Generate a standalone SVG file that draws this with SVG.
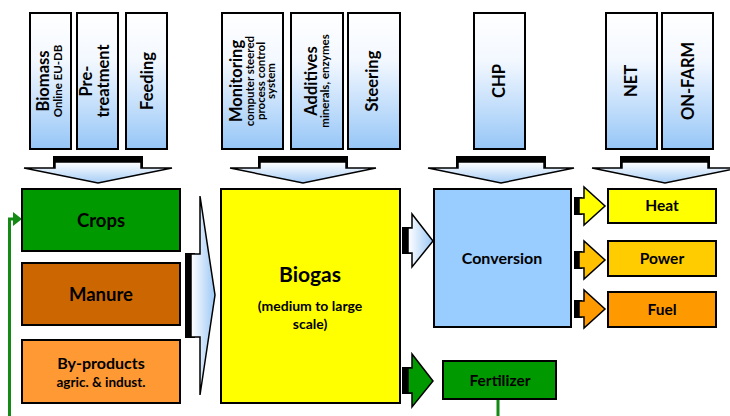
<svg xmlns="http://www.w3.org/2000/svg" width="730" height="416" viewBox="0 0 730 416">
<defs>
<linearGradient id="gTop" x1="0" y1="0" x2="0" y2="1">
<stop offset="0" stop-color="#ffffff"/>
<stop offset="0.35" stop-color="#f3f8ff"/>
<stop offset="1" stop-color="#96c6f7"/>
</linearGradient>
<linearGradient id="gDown" x1="0" y1="0" x2="0" y2="1">
<stop offset="0" stop-color="#ffffff"/>
<stop offset="1" stop-color="#a6cdf6"/>
</linearGradient>
<linearGradient id="gRight" x1="0" y1="0" x2="1" y2="0">
<stop offset="0" stop-color="#ffffff"/>
<stop offset="1" stop-color="#9cc8f6"/>
</linearGradient>
<style>
.top{fill:url(#gTop);stroke:#000;stroke-width:2}
.box{stroke:#000;stroke-width:2}
.arr{stroke:#000;stroke-width:1.5;stroke-linejoin:miter}
.t{font-family:Lato,"Open Sans","Liberation Sans",sans-serif;font-weight:bold;fill:#000;text-anchor:middle}
.v{font-size:16.5px}
.vs{font-size:11.5px}
</style>
</defs>

<g id="connectors">
<!-- down arrows -->
<rect x="53" y="156" width="90" height="13" fill="#000"/>
<polygon class="arr" fill="url(#gDown)" points="55,162 141,162 141,168 172,168 98,183 24,168 55,168"/>
<rect x="258" y="156" width="90" height="13" fill="#000"/>
<polygon class="arr" fill="url(#gDown)" points="260,162 346,162 346,168 376,168 303,183 230,168 260,168"/>
<rect x="456" y="156" width="90" height="13" fill="#000"/>
<polygon class="arr" fill="url(#gDown)" points="458,162 544,162 544,168 574,168 501,183 428,168 458,168"/>
<rect x="620" y="156" width="90" height="13" fill="#000"/>
<polygon class="arr" fill="url(#gDown)" points="622,162 708,162 708,168 738,168 665,183 592,168 622,168"/>
<!-- sources to biogas -->
<rect x="185" y="253" width="10" height="85" fill="#000"/>
<polygon class="arr" fill="url(#gRight)" points="191,254 200,254 200,196 215,295 200,395 200,337 191,337"/>
<!-- biogas to conversion -->
<rect x="402" y="227" width="9" height="27" fill="#000"/>
<polygon class="arr" fill="url(#gRight)" points="408,228 412,228 412,214 433,241 412,267 412,253 408,253"/>
<!-- biogas to fertilizer -->
<rect x="402" y="367" width="9" height="27" fill="#000"/>
<polygon class="arr" fill="#009900" points="408,368 412,368 412,354 433,381 412,407 412,393 408,393"/>
<!-- conversion to outputs -->
<rect x="574" y="197" width="8" height="18" fill="#000"/>
<polygon class="arr" fill="#ffff00" points="579,198 584,198 584,187 605,206 584,225 584,214 579,214"/>
<rect x="574" y="251" width="8" height="18" fill="#000"/>
<polygon class="arr" fill="#ffc000" points="579,252 584,252 584,241 605,260 584,279 584,268 579,268"/>
<rect x="574" y="300" width="8" height="18" fill="#000"/>
<polygon class="arr" fill="#ff9900" points="579,301 584,301 584,290 605,309 584,328 584,317 579,317"/>
<!-- fertilizer loop -->
<polyline points="9.5,416 9.5,219 15,219" fill="none" stroke="#138a13" stroke-width="3"/>
<polygon points="13,212 22,219 13,226" fill="#138a13"/>
<line x1="498" y1="399" x2="498" y2="416" stroke="#138a13" stroke-width="3"/>
</g>

<g id="biomass">
<rect class="top" x="30" y="13" width="41" height="136"/>
<text class="t v" transform="translate(49,81) rotate(-90)">Biomass</text>
<text class="t vs" transform="translate(62,81) rotate(-90)">Online EU-DB</text>
</g>
<g id="pretreatment">
<rect class="top" x="77" y="13" width="41" height="136"/>
<text class="t v" transform="translate(92,81) rotate(-90)">Pre-</text>
<text class="t v" transform="translate(109,81) rotate(-90)">treatment</text>
</g>
<g id="feeding">
<rect class="top" x="126" y="13" width="41" height="136"/>
<text class="t v" transform="translate(153,81) rotate(-90)">Feeding</text>
</g>
<g id="monitoring">
<rect class="top" x="222" y="13" width="61" height="136"/>
<text class="t v" transform="translate(242,81) rotate(-90)">Monitoring</text>
<text class="t vs" transform="translate(254,81) rotate(-90)">computer steered</text>
<text class="t vs" transform="translate(264.5,81) rotate(-90)">process control</text>
<text class="t vs" transform="translate(275,81) rotate(-90)">system</text>
</g>
<g id="additives">
<rect class="top" x="291" y="13" width="52" height="136"/>
<text class="t v" transform="translate(317,81) rotate(-90)">Additives</text>
<text class="t vs" transform="translate(329,81) rotate(-90)">minerals, enzymes</text>
</g>
<g id="steering">
<rect class="top" x="348" y="13" width="52" height="136"/>
<text class="t v" transform="translate(378,81) rotate(-90)">Steering</text>
</g>
<g id="chp">
<rect class="top" x="474" y="13" width="51" height="136"/>
<text class="t v" transform="translate(505,81) rotate(-90)">CHP</text>
</g>
<g id="net">
<rect class="top" x="606" y="13" width="51" height="136"/>
<text class="t v" transform="translate(637,81) rotate(-90)">NET</text>
</g>
<g id="onfarm">
<rect class="top" x="662" y="13" width="51" height="136"/>
<text class="t v" transform="translate(694,81) rotate(-90)">ON-FARM</text>
</g>

<g id="crops">
<rect class="box" x="22" y="189" width="158" height="62" fill="#009900"/>
<text class="t" x="101" y="227" font-size="18.5">Crops</text>
</g>
<g id="manure">
<rect class="box" x="22" y="263" width="158" height="62" fill="#cc6600"/>
<text class="t" x="101" y="301" font-size="18.5">Manure</text>
</g>
<g id="byproducts">
<rect class="box" x="22" y="340" width="158" height="63" fill="#ff9933"/>
<text class="t" x="101" y="369" font-size="16">By-products</text>
<text class="t" x="101" y="387" font-size="13.5">agric. &amp; indust.</text>
</g>
<g id="biogas">
<rect class="box" x="221" y="189" width="179" height="214" fill="#ffff00"/>
<text class="t" x="310" y="282" font-size="21">Biogas</text>
<text class="t" x="310" y="311" font-size="14">(medium to large</text>
<text class="t" x="310" y="329" font-size="14">scale)</text>
</g>
<g id="conversion">
<rect class="box" x="434" y="189" width="137" height="138" fill="#99ccff"/>
<text class="t" x="502" y="264" font-size="16">Conversion</text>
</g>
<g id="heat">
<rect class="box" x="608" y="189" width="108" height="34" fill="#ffff00"/>
<text class="t" x="662" y="211" font-size="15.5">Heat</text>
</g>
<g id="power">
<rect class="box" x="608" y="241" width="108" height="35" fill="#ffcc00"/>
<text class="t" x="662" y="264" font-size="15.5">Power</text>
</g>
<g id="fuel">
<rect class="box" x="608" y="292" width="108" height="35" fill="#ff9900"/>
<text class="t" x="662" y="315" font-size="15.5">Fuel</text>
</g>
<g id="fertilizer">
<rect class="box" x="443" y="361" width="113" height="38" fill="#009900"/>
<text class="t" x="500" y="386" font-size="15.5">Fertilizer</text>
</g>
</svg>
